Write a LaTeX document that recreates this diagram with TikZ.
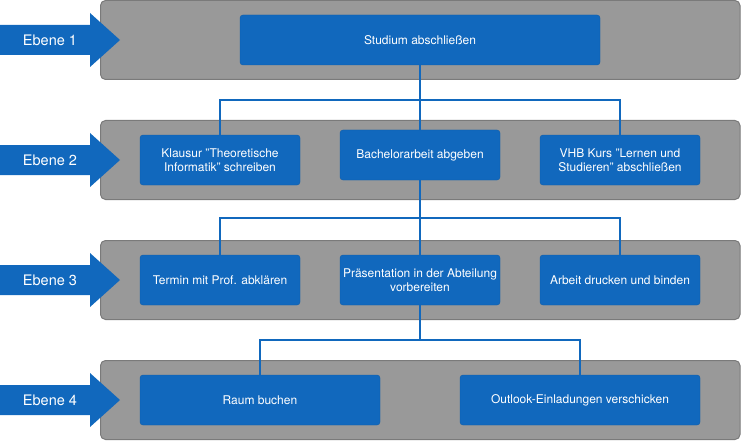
\documentclass[tikz,border=0pt]{standalone}
\usepackage{fontspec}
\setmainfont{TeX Gyre Heros}
\definecolor{boxblue}{HTML}{1168BD}
\definecolor{boxline}{HTML}{0F5CA8}
\definecolor{bandgrey}{HTML}{999999}
\definecolor{bandline}{HTML}{7A7A7A}
\begin{document}
\begin{tikzpicture}[x=1pt,y=-1pt,
  band/.style={draw=bandline,fill=bandgrey,rounded corners=5pt,line width=1pt},
  task/.style={draw=boxline,fill=boxblue,text=white,rounded corners=3pt,align=center,
    minimum width=160pt,minimum height=50pt,inner sep=2pt,font=\fontsize{12}{14}\selectfont},
  conn/.style={draw=boxblue,line width=1.5pt},
  levelarrow/.style={fill=boxblue},
  levellabel/.style={text=white,font=\fontsize{14.5}{16}\selectfont}]

\useasboundingbox (0,0) rectangle (741,441);

% Ebenen
\foreach \i/\cy in {1/40,2/160,3/280,4/400} {
  \draw[band] (100.5,\cy-39.5) rectangle (740,\cy+39.5);
  \fill[levelarrow] (0,\cy-15) -- (90,\cy-15) -- (90,\cy-27) -- (120,\cy)
    -- (90,\cy+27) -- (90,\cy+15) -- (0,\cy+15) -- cycle;
  \node[levellabel] (e\i) at (50,\cy) {Ebene \i};
}

% Ebene 1
\node[task,minimum width=360pt] (s) at (420,40) {Studium abschließen};

% Ebene 2
\node[task] (k) at (220,160) {Klausur "Theoretische\\Informatik" schreiben};
\node[task] (b) at (420,155) {Bachelorarbeit abgeben};
\node[task] (v) at (620,160) {VHB Kurs "Lernen und\\Studieren" abschließen};

% Ebene 3
\node[task] (t) at (220,280) {Termin mit Prof. abklären};
\node[task] (p) at (420,280) {Präsentation in der Abteilung\\vorbereiten};
\node[task] (a) at (620,280) {Arbeit drucken und binden};

% Ebene 4
\node[task,minimum width=240pt] (r) at (260,400) {Raum buchen};
\node[task,minimum width=240pt] (o) at (580,400) {Outlook-Einladungen verschicken};

\coordinate (j1) at (420,100);
\coordinate (j2) at (420,218);
\coordinate (j3) at (420,340);

\draw[conn] (s) -- (j1) -| (k);
\draw[conn] (j1) -| (v);
\draw[conn] (j1) -- (b);

\draw[conn] (b) -- (j2) -| (t);
\draw[conn] (j2) -| (a);
\draw[conn] (j2) -- (p);

\draw[conn] (p) -- (j3) -| (r);
\draw[conn] (j3) -| (o);
\end{tikzpicture}
\end{document}
